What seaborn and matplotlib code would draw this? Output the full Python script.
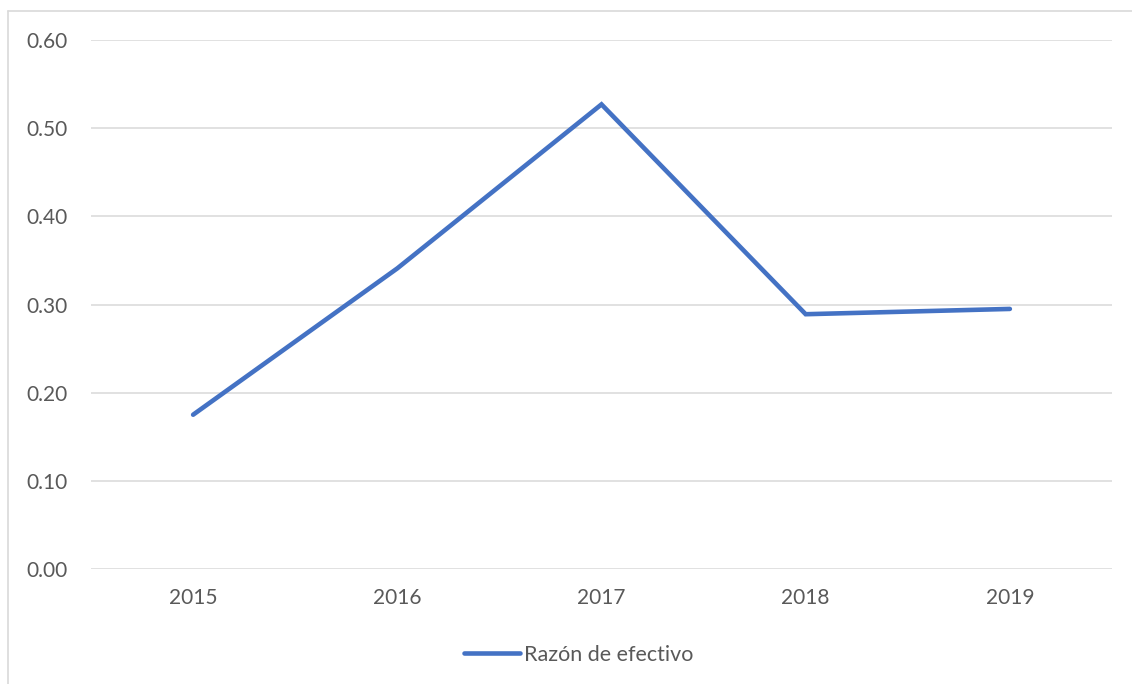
import pandas as pd
import matplotlib
matplotlib.use("Agg")
import matplotlib.pyplot as plt
import seaborn as sns
from matplotlib.lines import Line2D

# datos
anios = ["2015", "2016", "2017", "2018", "2019"]
razon_efectivo = [0.175, 0.341, 0.527, 0.289, 0.295]
y_ticks = [0.0, 0.1, 0.2, 0.3, 0.4, 0.5, 0.6]

df = pd.DataFrame({"anio": anios, "valor": razon_efectivo})

sns.set_theme(style="white")
plt.rcParams["font.family"] = ["Lato", "DejaVu Sans"]

texto = "#595959"
rejilla = "#D9D9D9"
azul = "#4472C4"

fig = plt.figure(figsize=(11.32, 6.84), dpi=100)
ax = fig.add_axes([0.0804, 0.1681, 0.9019, 0.7734])

sns.lineplot(data=df, x="anio", y="valor", ax=ax, color=azul, linewidth=3.3,
             solid_capstyle="round", solid_joinstyle="miter", sort=False)

ax.set_xlim(-0.5, len(anios) - 0.5)
ax.set_ylim(0, 0.6)
ax.set_yticks(y_ticks)
ax.set_yticklabels([f"{v:.2f}" for v in y_ticks])
ax.yaxis.grid(True, color=rejilla, linewidth=1.1)
ax.set_axisbelow(True)
for s in ax.spines.values():
    s.set_visible(False)
ax.tick_params(axis="both", length=0, labelsize=15, labelcolor=texto)
ax.tick_params(axis="y", pad=16.5)
ax.tick_params(axis="x", pad=14)
ax.set_xlabel("")
ax.set_ylabel("")

# leyenda abajo
h = Line2D([], [], color=azul, linewidth=3.3, solid_capstyle="round")
fig.legend([h], ["Razón de efectivo"], loc="center", bbox_to_anchor=(579 / 1132, 1 - 655 / 684),
           frameon=False, fontsize=15.5, labelcolor=texto, handlelength=2.6, handletextpad=0.2)

# marco del área del gráfico (recortado a derecha y abajo)
fig.add_artist(Line2D([8 / 1132, 8 / 1132], [0, 1 - 11 / 684], transform=fig.transFigure,
                      color=rejilla, linewidth=1.2))
fig.add_artist(Line2D([8 / 1132, 1], [1 - 11 / 684, 1 - 11 / 684], transform=fig.transFigure,
                      color=rejilla, linewidth=1.2))

fig.savefig("out.png", dpi=100)
plt.close(fig)
